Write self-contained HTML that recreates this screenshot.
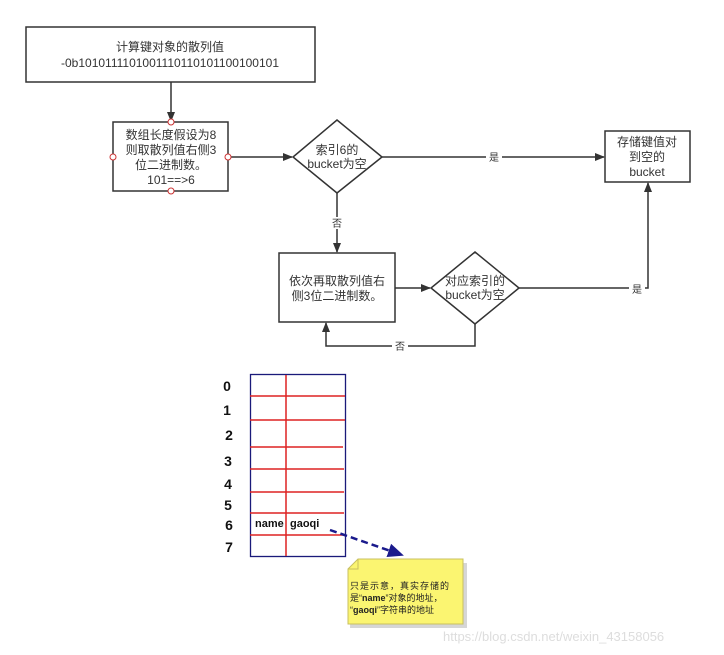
<!DOCTYPE html>
<html><head><meta charset="utf-8"><style>
html,body{margin:0;padding:0;background:#fff;}
svg{display:block;font-family:"Liberation Sans","Noto Sans CJK SC",sans-serif;}
</style></head><body>
<svg width="724" height="655" viewBox="0 0 724 655" xmlns="http://www.w3.org/2000/svg">
<defs>
<marker id="a" markerWidth="10" markerHeight="10" refX="9" refY="5" orient="auto" markerUnits="userSpaceOnUse"><path d="M0,1 L10,5 L0,9 Z" fill="#333"/></marker>
<marker id="b" markerWidth="16" markerHeight="14" refX="14" refY="7" orient="auto" markerUnits="userSpaceOnUse"><path d="M0,0 L16,7 L0,14 Z" fill="#1a1a8c"/></marker>
</defs>
<g stroke="#333" stroke-width="1.5" fill="#fff">
<rect x="26" y="27" width="289" height="55"/>
<rect x="113" y="122" width="115" height="69"/>
<polygon points="337,120 382,157 337,193 293,157"/>
<rect x="605" y="131" width="85" height="51"/>
<rect x="279" y="253" width="116" height="69"/>
<polygon points="475,252 519,288 475,324 431,288"/>
</g>
<g stroke="#333" stroke-width="1.5" fill="none">
<line x1="171" y1="82" x2="171" y2="121" marker-end="url(#a)"/>
<line x1="228" y1="157" x2="292" y2="157" marker-end="url(#a)"/>
<line x1="382" y1="157" x2="604" y2="157" marker-end="url(#a)"/>
<line x1="337" y1="193" x2="337" y2="252" marker-end="url(#a)"/>
<line x1="395" y1="288" x2="430" y2="288" marker-end="url(#a)"/>
<polyline points="519,288 648,288 648,183" marker-end="url(#a)"/>
<polyline points="475,324 475,346 326,346 326,323" marker-end="url(#a)"/>
</g>
<g fill="#fff" stroke="#c33" stroke-width="1">
<circle cx="171" cy="122" r="3"/><circle cx="171" cy="191" r="3"/><circle cx="113" cy="157" r="3"/><circle cx="228" cy="157" r="3"/>
</g>
<g font-size="12" fill="#333" text-anchor="middle">
<text x="170" y="51">计算键对象的散列值</text>
<text x="170" y="67">-0b10101111010011101101011001001​01</text>
<text x="171" y="139">数组长度假设为8</text>
<text x="171" y="154">则取散列值右侧3</text>
<text x="171" y="169">位二进制数。</text>
<text x="171" y="184">101==&gt;6</text>
<text x="337" y="154">索引6的</text>
<text x="337" y="168">bucket为空</text>
<text x="647" y="146">存储键值对</text>
<text x="647" y="161">到空的</text>
<text x="647" y="176">bucket</text>
<text x="337" y="285">依次再取散列值右</text>
<text x="337" y="300">侧3位二进制数。</text>
<text x="475" y="285">对应索引的</text>
<text x="475" y="299">bucket为空</text>
</g>
<g font-size="10" fill="#333" text-anchor="middle">
<rect x="486" y="151" width="16" height="12" fill="#fff"/><text x="494" y="161">是</text>
<rect x="329" y="217" width="16" height="12" fill="#fff"/><text x="337" y="227">否</text>
<rect x="629" y="283" width="16" height="12" fill="#fff"/><text x="637" y="293">是</text>
<rect x="392" y="340" width="16" height="12" fill="#fff"/><text x="400" y="350">否</text>
</g>
<!-- table -->
<rect x="250.5" y="374.5" width="95" height="182" fill="#fff" stroke="#1a1a7a" stroke-width="1.3"/>
<g stroke="#d22" stroke-width="1.5">
<line x1="286" y1="375" x2="286" y2="556"/>
<line x1="250" y1="396" x2="345" y2="396"/>
<line x1="250" y1="420" x2="345" y2="420"/>
<line x1="250" y1="447" x2="343" y2="447"/>
<line x1="250" y1="469" x2="344" y2="469"/>
<line x1="250" y1="492" x2="344" y2="492"/>
<line x1="250" y1="513" x2="344" y2="513"/>
<line x1="250" y1="535" x2="345" y2="535"/>
</g>
<g font-size="14" font-weight="bold" fill="#111" text-anchor="middle">
<text x="227" y="391">0</text><text x="227" y="415">1</text><text x="229" y="440">2</text>
<text x="228" y="466">3</text><text x="228" y="489">4</text><text x="228" y="510">5</text>
<text x="229" y="530">6</text><text x="229" y="552">7</text>
</g>
<text x="255" y="527" font-size="11" font-weight="bold" fill="#111">name</text>
<text x="290" y="527" font-size="11" font-weight="bold" fill="#111">gaoqi</text>
<line x1="330" y1="530" x2="402" y2="555" stroke="#1a1a8c" stroke-width="2.5" stroke-dasharray="7,4" marker-end="url(#b)"/>
<!-- note -->
<polygon points="350,570 348,626 465,626 465,561 358,561" fill="#999" opacity="0.4" transform="translate(2,2)"/>
<polygon points="358,559 463,559 463,624 348,624 348,569" fill="#fbf571" stroke="#c8c060" stroke-width="1"/>
<polyline points="348,569 358,569 358,559" fill="none" stroke="#c8c060"/>
<g font-size="9" fill="#222">
<text x="350" y="589" letter-spacing="1">只是示意，真实存储的</text>
<text x="350" y="601">是“<tspan font-weight="bold">name</tspan>”对象的地址，</text>
<text x="350" y="613">“<tspan font-weight="bold">gaoqi</tspan>”字符串的地址</text>
</g>
<text x="443" y="641" font-size="13" fill="#ddd">https://blog.csdn.net/weixin_43158056</text>
</svg>
</body></html>
